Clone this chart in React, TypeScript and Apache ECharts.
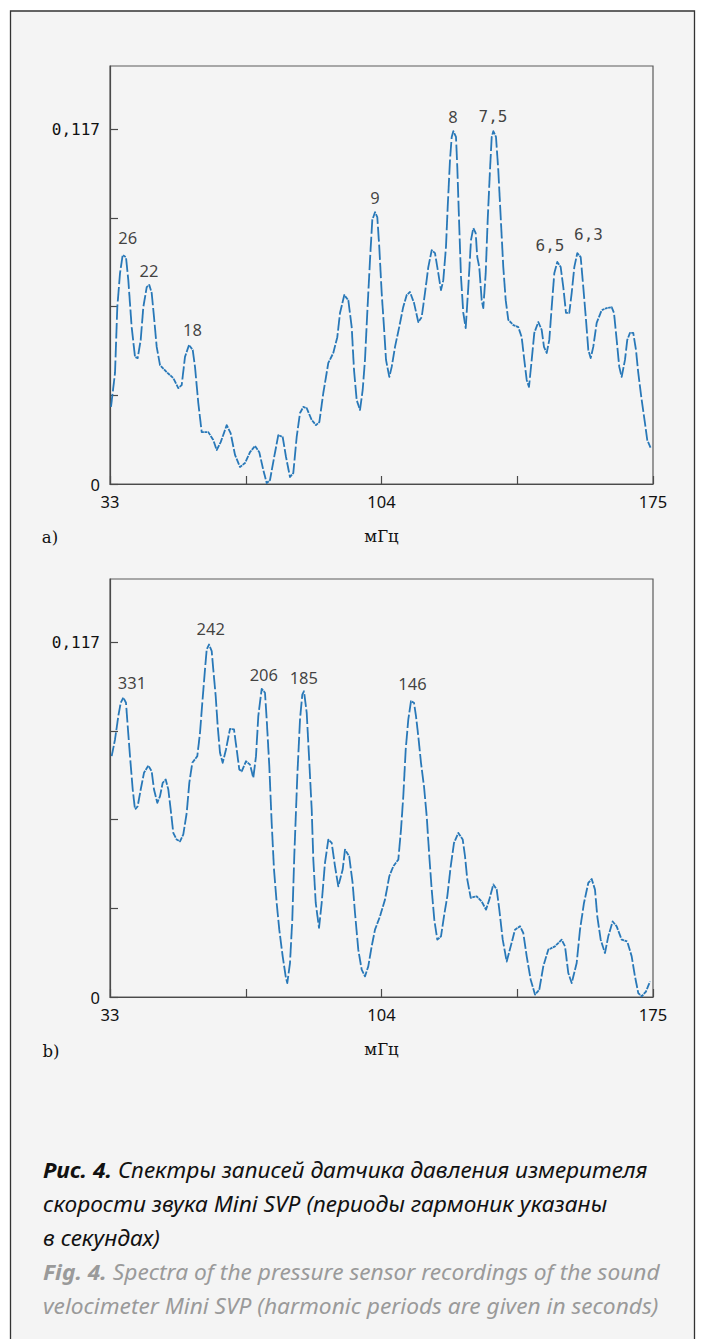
import React, { useEffect, useRef } from "react";
import * as echarts from "echarts";

// ---------- data ----------
const freqA = [
  33.26, 34.31, 34.91, 35.62, 36.32, 37.18, 37.79, 38.67, 39.54, 40.24, 41.03, 41.71, 42.6, 43.28, 43.9, 44.51,
  45.21, 46.08, 47.83, 49.55, 50.86, 51.75, 52.61, 53.66, 54.63, 55.23, 56.09, 56.98, 58.71, 60.01, 60.9, 61.95,
  63.52, 64.54, 65.69, 67.0, 68.3, 69.61, 70.92, 72.04, 73.09, 73.98, 74.84, 75.89, 77.01, 78.16, 79.03, 80.07,
  80.93, 81.82, 82.69, 83.55, 84.44, 85.75, 86.87, 87.74, 88.78, 90.09, 91.39, 92.44, 93.15, 94.27, 95.32, 96.21,
  96.81, 97.51, 98.38, 99.08, 99.68, 100.28, 100.99, 101.59, 102.3, 102.9, 103.42, 104.05, 104.65, 105.18, 106.04,
  106.67, 107.53, 108.63, 109.67, 110.59, 111.45, 112.5, 113.62, 114.51, 115.37, 116.24, 117.13, 117.99, 118.85,
  119.56, 120.16, 120.86, 121.31, 121.91, 122.36, 122.78, 123.48, 123.82, 124.34, 124.79, 125.39, 126.02, 126.7,
  127.4, 128.01, 128.63, 129.05, 129.57, 130.2, 130.62, 131.25, 131.77, 132.37, 132.82, 133.24, 133.94, 134.54,
  135.17, 135.85, 136.48, 137.16, 138.47, 139.78, 140.66, 141.34, 141.97, 142.57, 143.28, 143.96, 145.01, 145.89,
  146.49, 147.2, 147.88, 148.51, 149.19, 149.97, 150.86, 151.54, 152.25, 153.11, 153.74, 154.42, 155.2, 156.09,
  156.77, 157.48, 158.08, 158.7, 159.38, 160.27, 161.58, 162.89, 164.19, 164.8, 165.5, 166.18, 166.81, 167.67,
  168.27, 168.98, 169.84, 170.55, 171.15, 172.04, 172.9, 173.5, 174.39,
];
const ampA = [
  0.0254, 0.0366, 0.0583, 0.0695, 0.0755, 0.0748, 0.0672, 0.0517, 0.0419, 0.0415, 0.0475, 0.0583, 0.0649, 0.0656,
  0.063, 0.055, 0.0452, 0.0392, 0.0369, 0.0349, 0.0316, 0.0326, 0.0419, 0.0458, 0.0442, 0.0386, 0.0267, 0.0171,
  0.0171, 0.0145, 0.0112, 0.0138, 0.0194, 0.0168, 0.0096, 0.0056, 0.0069, 0.0105, 0.0125, 0.0105, 0.0046, 0.0003,
  0.0013, 0.0086, 0.0161, 0.0155, 0.0089, 0.0023, 0.0036, 0.0155, 0.0234, 0.0254, 0.025, 0.0211, 0.0194, 0.0204,
  0.03, 0.0399, 0.0432, 0.0484, 0.0564, 0.0623, 0.0606, 0.0517, 0.0376, 0.0277, 0.0244, 0.031, 0.0409, 0.0564,
  0.0738, 0.087, 0.0896, 0.088, 0.0781, 0.063, 0.0517, 0.0409, 0.0353, 0.0386, 0.0452, 0.0517, 0.0583, 0.0623,
  0.0633, 0.0597, 0.0534, 0.055, 0.063, 0.0715, 0.0771, 0.0761, 0.0695, 0.0639, 0.0672, 0.0781, 0.0913, 0.1068,
  0.1144, 0.1163, 0.1144, 0.1045, 0.0847, 0.0682, 0.0564, 0.0514, 0.0649, 0.0804, 0.0844, 0.0827, 0.0748, 0.0715,
  0.0606, 0.058, 0.0695, 0.087, 0.1035, 0.1144, 0.1163, 0.1144, 0.1035, 0.088, 0.0715, 0.0606, 0.0541, 0.0524,
  0.0517, 0.0484, 0.0409, 0.0343, 0.032, 0.0409, 0.0498, 0.0534, 0.0508, 0.0452, 0.0432, 0.0475, 0.0583, 0.0695,
  0.0732, 0.0715, 0.0649, 0.0564, 0.0564, 0.063, 0.0715, 0.0761, 0.0748, 0.0649, 0.0541, 0.0442, 0.0415, 0.0452,
  0.0531, 0.0573, 0.058, 0.0583, 0.0564, 0.0475, 0.0386, 0.0353, 0.0409, 0.0475, 0.0498, 0.0498, 0.0442, 0.0366,
  0.0277, 0.0201, 0.0145, 0.0119,
];

const freqB = [
  33.44, 34.31, 35.17, 35.8, 36.49, 37.18, 37.63, 38.23, 38.94, 39.54, 40.24, 41.03, 41.89, 43.02, 43.9, 44.51,
  45.37, 46.08, 46.78, 47.57, 48.25, 48.87, 49.55, 50.44, 51.31, 52.17, 53.06, 53.74, 54.52, 55.83, 56.54, 57.14,
  57.84, 58.29, 58.89, 59.6, 60.01, 60.64, 61.16, 61.77, 62.47, 63.33, 64.38, 65.43, 66.13, 66.81, 67.44, 68.56,
  69.61, 70.47, 71.18, 71.78, 72.67, 73.53, 73.98, 74.66, 75.28, 75.89, 76.59, 77.27, 78.16, 78.94, 79.36, 80.07,
  80.67, 81.19, 81.98, 82.69, 83.29, 83.73, 84.44, 85.04, 85.75, 86.17, 86.8, 87.66, 88.36, 89.22, 90.09, 90.98,
  91.84, 92.7, 93.85, 94.45, 95.55, 96.44, 97.07, 97.93, 98.82, 99.68, 100.54, 101.43, 102.3, 103.61, 104.91,
  106.04, 107.09, 108.4, 109.1, 109.7, 110.33, 111.01, 111.71, 112.5, 113.02, 113.62, 114.33, 115.11, 115.82,
  116.5, 117.13, 117.81, 118.59, 119.56, 120.34, 121.21, 122.1, 122.96, 124.09, 125.24, 125.84, 126.44, 127.33,
  128.9, 130.2, 131.33, 132.19, 133.24, 134.13, 134.81, 135.7, 136.74, 137.79, 138.91, 140.22, 141.08, 141.97,
  143.02, 144.14, 145.26, 146.31, 147.62, 149.37, 151.12, 151.99, 152.85, 153.74, 155.04, 155.91, 156.95, 158.08,
  158.97, 159.83, 160.43, 161.32, 162.44, 163.3, 164.45, 165.5, 166.81, 168.27, 169.42, 170.28, 171.15, 172.04,
  173.16, 174.21,
];
const ampB = [
  0.0794, 0.0849, 0.0926, 0.097, 0.0987, 0.097, 0.0893, 0.0794, 0.0684, 0.0618, 0.0629, 0.0684, 0.0739, 0.0763,
  0.0744, 0.0684, 0.064, 0.0662, 0.0706, 0.0717, 0.0684, 0.0618, 0.0541, 0.0519, 0.0513, 0.0536, 0.0607, 0.0706,
  0.0772, 0.0794, 0.0871, 0.097, 0.108, 0.1146, 0.1162, 0.114, 0.108, 0.0992, 0.0893, 0.0805, 0.0772, 0.0816,
  0.0884, 0.0882, 0.0816, 0.075, 0.0744, 0.0777, 0.0766, 0.0723, 0.0794, 0.0926, 0.1016, 0.1003, 0.0915, 0.0761,
  0.0574, 0.042, 0.031, 0.0222, 0.0134, 0.0068, 0.0046, 0.0112, 0.0255, 0.0464, 0.0728, 0.0915, 0.0997, 0.1008,
  0.0937, 0.0794, 0.0618, 0.0453, 0.031, 0.0228, 0.031, 0.0442, 0.0519, 0.0508, 0.0431, 0.0365, 0.042, 0.0486,
  0.0464, 0.0376, 0.0277, 0.0156, 0.009, 0.0068, 0.0101, 0.0167, 0.0222, 0.0266, 0.0321, 0.0398, 0.0431, 0.0453,
  0.0552, 0.0662, 0.0816, 0.0915, 0.0975, 0.097, 0.0926, 0.086, 0.0772, 0.0695, 0.0596, 0.0464, 0.0354, 0.0255,
  0.0189, 0.02, 0.0266, 0.0332, 0.0431, 0.0508, 0.0541, 0.0519, 0.0464, 0.0387, 0.0327, 0.0332, 0.0315, 0.0288,
  0.0321, 0.0371, 0.0354, 0.0288, 0.0189, 0.0117, 0.0167, 0.0222, 0.0233, 0.0211, 0.0134, 0.0057, 0.0008, 0.0024,
  0.0101, 0.0156, 0.0167, 0.0189, 0.0167, 0.0079, 0.0046, 0.0112, 0.0222, 0.031, 0.0376, 0.0389, 0.0354, 0.0266,
  0.0189, 0.0145, 0.02, 0.0249, 0.0233, 0.0189, 0.0183, 0.0134, 0.0068, 0.0013, 0.0002, 0.0018, 0.0051,
];

const peakTextA = ["26", "22", "18", "9", "8", "7,5", "6,5", "6,3"];
const peakFreqA = [37.63, 43.2, 54.57, 102.3, 122.7, 133.16, 148.06, 158.13];
const peakAmpA = [0.0814, 0.0705, 0.0508, 0.0943, 0.121, 0.121, 0.0785, 0.0824];

const peakTextB = ["331", "242", "206", "185", "146"];
const peakFreqB = [38.75, 59.33, 73.22, 83.68, 112.1];
const peakAmpB = [0.1037, 0.1215, 0.1063, 0.1054, 0.1034];

const xTicks = [33, 68.5, 104, 139.5, 175];
const xTickLabels = [33, 104, 175];
const yTicks = [0, 0.02925, 0.0585, 0.08775, 0.117];
const yTickLabels = [0, 0.117];
const xMin = 33;
const xMax = 175;
const yMax = 0.1378;

const panelLetters = ["a)", "b)"];
const axisName = "мГц";

const captionLines = [
  "{b|Рис. 4.}{n| Спектры записей датчика давления измерителя}",
  "{n|скорости звука Mini SVP (периоды гармоник указаны}",
  "{n|в секундах)}",
  "{gb|Fig. 4.}{g| Spectra of the pressure sensor recordings of the sound}",
  "{g|velocimeter Mini SVP (harmonic periods are given in seconds)}",
];

// ---------- styling ----------
const LINE = "#2878b8";
const TEXT = "#111111";
const GREY = "#9a9a9a";
const AXIS = "#4a4a4a";
const SANS = "Noto Sans";
const MONO = "DejaVu Sans Mono";
const SERIF = "DejaVu Serif";
const CAP_SIZE = 21;

// split a pixel polyline into dashes, measuring length with horizontal moves weighted by k
function dashPieces(pts: number[][], on: number, off: number, k: number) {
  const pieces: number[][][] = [];
  let cur: number[][] | null = [pts[0]];
  let drawing = true;
  let remain = on;
  for (let i = 0; i < pts.length - 1; i++) {
    const x0 = pts[i][0], y0 = pts[i][1];
    const x1 = pts[i + 1][0], y1 = pts[i + 1][1];
    const dx = x1 - x0, dy = y1 - y0;
    const v = Math.hypot(dx * k, dy);
    let used = 0;
    while (v - used > remain) {
      used += remain;
      const f = used / v;
      const p = [x0 + dx * f, y0 + dy * f];
      if (drawing) {
        (cur as number[][]).push(p);
        pieces.push(cur as number[][]);
        cur = null;
        drawing = false;
        remain = off;
      } else {
        cur = [p];
        drawing = true;
        remain = on;
      }
    }
    remain -= v - used;
    if (drawing && cur) cur.push([x1, y1]);
  }
  if (drawing && cur && cur.length > 1) pieces.push(cur);
  return pieces;
}

function curveSeries(freq: number[], amp: number[], idx: number) {
  return {
    type: "custom",
    xAxisIndex: idx,
    yAxisIndex: idx,
    silent: true,
    clip: false,
    z: 3,
    data: freq.map((f, i) => [f, amp[i]]),
    renderItem: (params: any, api: any) => {
      if (params.dataIndex !== 0) return null;
      const pts = freq.map((f, i) => api.coord([f, amp[i]]));
      const pieces = dashPieces(pts, 16, 3.2, 6);
      return {
        type: "group",
        children: pieces.map((p) => ({
          type: "polyline",
          shape: { points: p },
          style: { stroke: LINE, lineWidth: 1.8, fill: "none", lineJoin: "round", lineCap: "butt" },
        })),
      };
    },
  };
}

const labelRich = {
  s: { fontFamily: SANS, fontSize: 16.5, color: TEXT },
  m: { fontFamily: MONO, fontSize: 16, color: TEXT },
};

function peakSeries(freq: number[], amp: number[], text: string[], idx: number) {
  return {
    type: "scatter",
    xAxisIndex: idx,
    yAxisIndex: idx,
    silent: true,
    symbolSize: 1,
    itemStyle: { color: "transparent" },
    z: 4,
    data: freq.map((f, i) => [f, amp[i], text[i]]),
    label: {
      show: true,
      position: "inside",
      color: TEXT,
      formatter: (p: any) => {
        const t = String(p.value[2]);
        return t.indexOf(",") >= 0 ? "{m|" + t + "}" : "{s|" + t + "}";
      },
      rich: labelRich,
    },
  };
}

function xAxisOpt(idx: number) {
  return {
    type: "value",
    gridIndex: idx,
    min: xMin,
    max: xMax,
    axisLine: { show: true, lineStyle: { color: AXIS, width: 1.2 } },
    axisTick: { show: true, inside: true, length: 8, customValues: xTicks, lineStyle: { color: AXIS, width: 1.2 } },
    axisLabel: {
      show: true,
      customValues: xTickLabels,
      showMinLabel: true,
      showMaxLabel: true,
      margin: 9,
      color: TEXT,
      fontFamily: SANS,
      fontSize: 16.5,
    },
    splitLine: { show: false },
    name: axisName,
    nameLocation: "middle",
    nameGap: 44,
    nameTextStyle: { fontFamily: SERIF, fontSize: 16.5, color: TEXT },
  };
}

function yAxisOpt(idx: number) {
  return {
    type: "value",
    gridIndex: idx,
    min: 0,
    max: yMax,
    axisLine: { show: true, lineStyle: { color: AXIS, width: 1.2 } },
    axisTick: { show: true, inside: true, length: 8, customValues: yTicks, lineStyle: { color: AXIS, width: 1.2 } },
    axisLabel: {
      show: true,
      customValues: yTickLabels,
      showMinLabel: true,
      showMaxLabel: true,
      margin: 10,
      formatter: (v: number) => (v === 0 ? "{s|0}" : "{m|" + String(v).replace(".", ",") + "}"),
      rich: labelRich,
    },
    splitLine: { show: false },
  };
}

export default function App() {
  const ref = useRef<HTMLDivElement>(null);
  useEffect(() => {
    if (!ref.current) return;
    const chart = echarts.init(ref.current, null, { renderer: "svg" });

    // fit caption width with a horizontal scale (condensed caption face)
    let capScale = 1;
    try {
      const ctx = document.createElement("canvas").getContext("2d");
      if (ctx) {
        ctx.font = `italic bold ${CAP_SIZE}px "${SANS}"`;
        const w1 = ctx.measureText("Рис. 4.").width;
        ctx.font = `italic ${CAP_SIZE}px "${SANS}"`;
        const w2 = ctx.measureText(" Спектры записей датчика давления измерителя").width;
        if (w1 + w2 > 0) capScale = 605 / (w1 + w2);
      }
    } catch (e) {
      capScale = 1;
    }

    const capRich = {
      b: { fontFamily: SANS, fontStyle: "italic", fontWeight: "bold", fontSize: CAP_SIZE, fill: TEXT },
      n: { fontFamily: SANS, fontStyle: "italic", fontSize: CAP_SIZE, fill: TEXT },
      gb: { fontFamily: SANS, fontStyle: "italic", fontWeight: "bold", fontSize: CAP_SIZE, fill: GREY },
      g: { fontFamily: SANS, fontStyle: "italic", fontSize: CAP_SIZE, fill: GREY },
    };
    const capBaselines = [1177, 1211, 1245, 1279, 1313];

    chart.setOption({
      animation: false,
      backgroundColor: "transparent",
      grid: [
        { left: 110, top: 66, width: 543, height: 418, show: true, borderColor: "#5a5a5a", borderWidth: 1.2, backgroundColor: "transparent", outerBoundsMode: "none" },
        { left: 110, top: 579, width: 543, height: 418, show: true, borderColor: "#5a5a5a", borderWidth: 1.2, backgroundColor: "transparent", outerBoundsMode: "none" },
      ],
      xAxis: [xAxisOpt(0), xAxisOpt(1)],
      yAxis: [yAxisOpt(0), yAxisOpt(1)],
      series: [
        curveSeries(freqA, ampA, 0),
        curveSeries(freqB, ampB, 1),
        peakSeries(peakFreqA, peakAmpA, peakTextA, 0),
        peakSeries(peakFreqB, peakAmpB, peakTextB, 1),
      ],
      graphic: [
        {
          type: "rect",
          z: -10,
          silent: true,
          shape: { x: 10.5, y: 11, width: 684, height: 1360 },
          style: { fill: "#f4f4f4", stroke: "#333333", lineWidth: 1.3 },
        },
        {
          type: "text",
          x: 50,
          y: 537,
          silent: true,
          style: { text: panelLetters[0], fontFamily: SERIF, fontSize: 16.5, fill: TEXT, align: "center", verticalAlign: "middle" },
        },
        {
          type: "text",
          x: 51,
          y: 1051,
          silent: true,
          style: { text: panelLetters[1], fontFamily: SERIF, fontSize: 16.5, fill: TEXT, align: "center", verticalAlign: "middle" },
        },
        ...captionLines.map((line, i) => ({
          type: "text",
          x: 43,
          y: capBaselines[i] - 7,
          scaleX: capScale,
          silent: true,
          style: { text: line, rich: capRich, align: "left", verticalAlign: "middle", fill: i < 3 ? TEXT : GREY },
        })),
      ],
    });
    return () => chart.dispose();
  }, []);
  return <div ref={ref} style={{ position: "absolute", left: 0, top: 0, width: 701, height: 1339 }} />;
}
